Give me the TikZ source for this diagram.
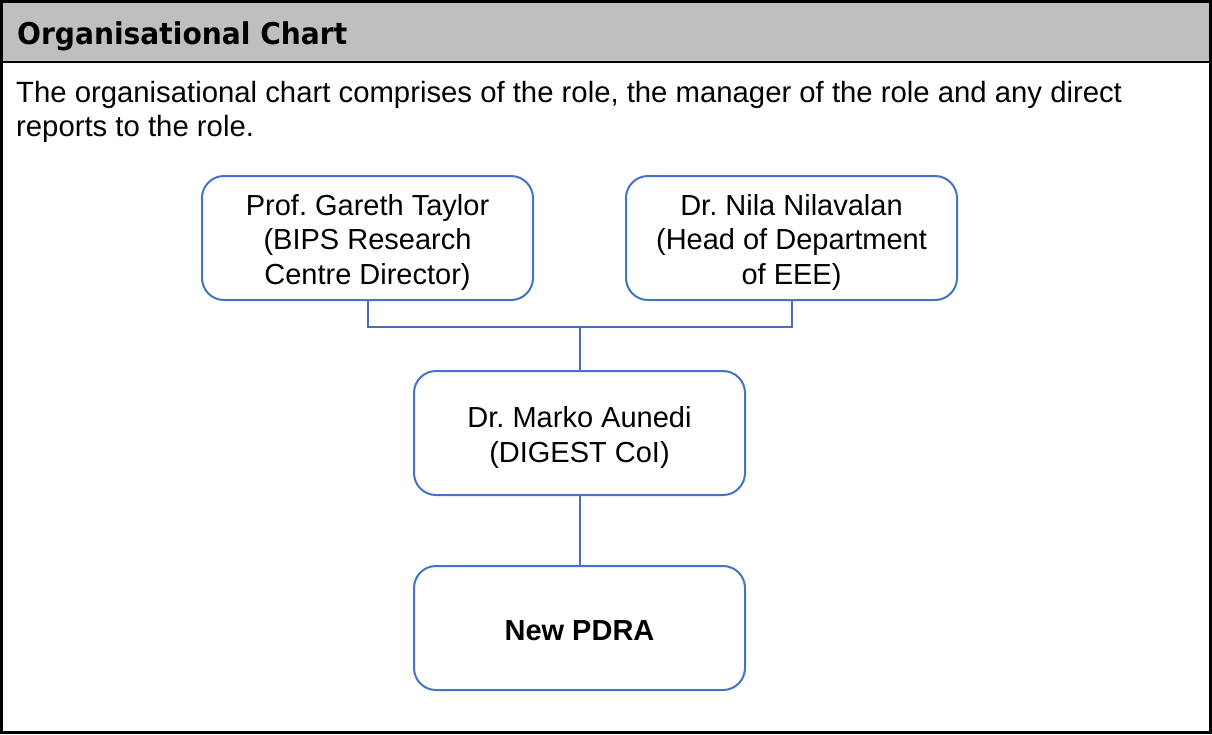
\documentclass[tikz,border=0pt]{standalone}
\usepackage{fontspec}
\usepackage{graphicx}
\setmainfont{Liberation Sans}
\newfontfamily\headfont{DejaVu Sans}
\definecolor{boxblue}{HTML}{4472C4}
\definecolor{linkblue}{HTML}{4A6FB5}
\definecolor{headgray}{HTML}{BFBFBF}
\newcommand\boxstrut[1]{\rule{0pt}{#1}}
\frenchspacing
\begin{document}
\frenchspacing
\begin{tikzpicture}[x=1pt,y=-1pt,
  person/.style={draw=boxblue, line width=2pt, rounded corners=22pt, fill=white,
    minimum width=331pt, minimum height=124pt, align=center, inner sep=0pt,
    font=\fontsize{29pt}{34.5pt}\selectfont},
  link/.style={draw=linkblue, line width=2pt}]
\useasboundingbox (0,0) rectangle (1212,734);
% header
\fill[headgray] (1.5,1.5) rectangle (1210.5,62);
\draw[line width=2pt] (1.5,62) -- (1210.5,62);
\draw[line width=3pt] (1.5,1.5) rectangle (1210.5,732.5);
\node[anchor=base west, inner sep=0pt, font=\headfont\bfseries\fontsize{30pt}{36pt}\selectfont] (title) at (17,44)
  {\resizebox{330pt}{\height}{Organisational Chart}};
\node[anchor=north west, inner sep=0pt, align=left, font=\fontsize{29.3pt}{34pt}\selectfont] (intro) at (16,81)
  {The organisational chart comprises of the role, the manager of the role and any direct\\reports to the role.};
% boxes
\node[person] (taylor) at (367.5,238) {\boxstrut{29.5pt}Prof. Gareth Taylor\\(BIPS Research\\Centre Director)};
\node[person] (nila) at (791.5,238) {\boxstrut{29.5pt}Dr. Nila Nilavalan\\(Head of Department\\of EEE)};
\node[person] (marko) at (579.5,433) {\boxstrut{29.5pt}Dr. Marko Aunedi\\(DIGEST CoI)};
\node[person] (pdra) at (579.5,628) {\boxstrut{24.5pt}\textbf{New PDRA}};
% connectors
\coordinate (junc) at (579.5,327);
\draw[link] (taylor.south) |- (junc) -| (nila.south);
\draw[link] (junc) -- (marko.north);
\draw[link] (marko.south) -- (pdra.north);
\end{tikzpicture}
\end{document}
